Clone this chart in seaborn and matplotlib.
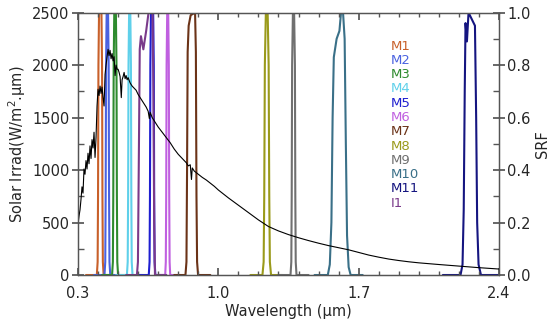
import numpy as np
import pandas as pd
import matplotlib
matplotlib.use("Agg")
import matplotlib.pyplot as plt
import seaborn as sns
from matplotlib.ticker import MultipleLocator, FixedLocator, FormatStrFormatter

# ---------------- data ----------------
solar_wl = [0.300, 0.305, 0.310, 0.315, 0.320, 0.325, 0.330, 0.335, 0.340, 0.345,
            0.350, 0.355, 0.360, 0.365, 0.370, 0.375, 0.380, 0.385, 0.390, 0.395,
            0.400, 0.405, 0.410, 0.415, 0.420, 0.425, 0.430, 0.435, 0.440, 0.445,
            0.450, 0.455, 0.460, 0.465, 0.470, 0.475, 0.480, 0.485, 0.490, 0.495,
            0.500, 0.505, 0.510, 0.516, 0.520, 0.525, 0.530, 0.535, 0.540, 0.545,
            0.550, 0.560, 0.570, 0.580, 0.590, 0.600, 0.610, 0.620, 0.630, 0.640,
            0.650, 0.656, 0.660, 0.670, 0.680, 0.690, 0.700, 0.720, 0.740, 0.760,
            0.780, 0.800, 0.820, 0.840, 0.850, 0.860, 0.866, 0.870, 0.880, 0.900,
            0.920, 0.940, 0.960, 0.980, 1.000, 1.050, 1.100, 1.150, 1.200,
            1.250, 1.300, 1.350, 1.400, 1.450, 1.500, 1.550, 1.600, 1.650, 1.700,
            1.750, 1.800, 1.850, 1.900, 1.950, 2.000, 2.050, 2.100, 2.200, 2.300, 2.400]
solar_irr = [480, 560, 620, 720, 840, 780, 1010, 960, 1090, 1010,
             1160, 1060, 1230, 1110, 1290, 1210, 1360, 1120, 1310, 1610,
             1770, 1710, 1800, 1730, 1790, 1690, 1610, 1910, 2000, 2080,
             2150, 2090, 2140, 2060, 2110, 2040, 2080, 1900, 2000, 1960,
             1960, 1930, 1890, 1690, 1860, 1890, 1930, 1870, 1900, 1860,
             1880, 1830, 1800, 1780, 1760, 1720, 1690, 1660, 1630, 1600,
             1560, 1490, 1550, 1500, 1470, 1440, 1410, 1360, 1310, 1260,
             1200, 1150, 1110, 1070, 1040, 1050, 910, 1020, 990, 960,
             930, 905, 875, 845, 810, 735, 665, 595, 525,
             462, 420, 385, 355, 328, 303, 280, 260, 240, 215,
             190, 170, 152, 138, 126, 116, 108, 100, 85, 70, 57]

band_names = ["M1", "M2", "M3", "M4", "M5", "M6", "M7", "M8", "M9", "M10", "M11", "I1"]
band_colors = ["#c8602a", "#4a62e0", "#2e8b2e", "#5fd0ea", "#1e1ed0", "#c060e0",
               "#6b3318", "#9a9a1a", "#707070", "#3a7088", "#151580", "#7a3a8a"]

flat_srf = [0, 0, 0.05, 0.3, 0.8, 1, 1, 0.8, 0.3, 0.05, 0, 0]

M1_wl = [0.34, 0.394, 0.398, 0.400, 0.402, 0.405, 0.417, 0.420, 0.422, 0.424, 0.428, 0.48]
M1_srf = flat_srf
M2_wl = [0.38, 0.432, 0.436, 0.438, 0.440, 0.443, 0.450, 0.453, 0.455, 0.457, 0.461, 0.51]
M2_srf = flat_srf
M3_wl = [0.42, 0.470, 0.474, 0.476, 0.478, 0.481, 0.489, 0.492, 0.494, 0.496, 0.500, 0.55]
M3_srf = flat_srf
M4_wl = [0.49, 0.544, 0.548, 0.550, 0.552, 0.555, 0.561, 0.564, 0.566, 0.568, 0.572, 0.62]
M4_srf = flat_srf
M5_wl = [0.60, 0.653, 0.657, 0.659, 0.661, 0.664, 0.675, 0.678, 0.680, 0.682, 0.686, 0.74]
M5_srf = flat_srf
M6_wl = [0.69, 0.735, 0.738, 0.740, 0.742, 0.745, 0.750, 0.753, 0.755, 0.757, 0.760, 0.81]
M6_srf = flat_srf
M7_wl = [0.78, 0.836, 0.841, 0.844, 0.847, 0.852, 0.862, 0.884, 0.888, 0.891, 0.894, 0.899, 0.96]
M7_srf = [0, 0, 0.05, 0.4, 0.85, 0.95, 0.99, 1.0, 0.85, 0.3, 0.05, 0, 0]
M8_wl = [1.16, 1.220, 1.226, 1.229, 1.232, 1.237, 1.246, 1.251, 1.254, 1.257, 1.263, 1.32]
M8_srf = flat_srf
M9_wl = [1.30, 1.360, 1.364, 1.366, 1.368, 1.372, 1.378, 1.382, 1.384, 1.386, 1.390, 1.45]
M9_srf = flat_srf
M10_wl = [1.48, 1.546, 1.556, 1.564, 1.570, 1.576, 1.590, 1.604, 1.612, 1.622,
          1.630, 1.636, 1.642, 1.650, 1.660, 1.72]
M10_srf = [0, 0, 0.04, 0.2, 0.6, 0.83, 0.90, 0.93, 1.0, 1.0,
           0.9, 0.5, 0.15, 0.03, 0, 0]
M11_wl = [2.12, 2.208, 2.218, 2.224, 2.229, 2.233, 2.240, 2.248, 2.280, 2.286,
          2.291, 2.298, 2.310, 2.40]
M11_srf = [0, 0, 0.04, 0.25, 0.7, 0.96, 0.89, 1.0, 0.95, 0.6,
           0.2, 0.04, 0, 0]
I1_wl = [0.54, 0.594, 0.599, 0.603, 0.608, 0.614, 0.626, 0.640, 0.652, 0.672,
         0.676, 0.680, 0.684, 0.74]
I1_srf = [0, 0, 0.05, 0.4, 0.86, 0.91, 0.86, 0.93, 1.0, 1.0,
          0.7, 0.2, 0, 0]

band_wls = [M1_wl, M2_wl, M3_wl, M4_wl, M5_wl, M6_wl, M7_wl, M8_wl, M9_wl, M10_wl, M11_wl, I1_wl]
band_srfs = [M1_srf, M2_srf, M3_srf, M4_srf, M5_srf, M6_srf, M7_srf, M8_srf, M9_srf, M10_srf, M11_srf, I1_srf]

x_ticks = [0.3, 1.0, 1.7, 2.4]

# ---------------- plot ----------------
sns.set_theme(style="ticks")
plt.rcParams["font.family"] = ["DejaVu Sans"]
plt.rcParams["axes.edgecolor"] = "#555555"
plt.rcParams["axes.linewidth"] = 0.9

fig = plt.figure(figsize=(5.5, 3.26), dpi=100)
ax = fig.add_axes([0.1418, 0.1564, 0.7655, 0.805])
ax2 = ax.twinx()

for name, wl, srf, col in zip(band_names, band_wls, band_srfs, band_colors):
    df = pd.DataFrame({"wl": wl, "srf": srf})
    sns.lineplot(data=df, x="wl", y="srf", ax=ax2, color=col, lw=1.5,
                 sort=False, estimator=None)

sol = pd.DataFrame({"wl": solar_wl, "irr": solar_irr})
sns.lineplot(data=sol, x="wl", y="irr", ax=ax, color="black", lw=0.8,
             sort=False, estimator=None)

ax.set_zorder(ax2.get_zorder() + 1)
ax.patch.set_visible(False)

ax.set_xlim(0.3, 2.4)
ax.set_ylim(0, 2500)
ax2.set_ylim(0, 1.0)

ax.xaxis.set_major_locator(FixedLocator(x_ticks))
ax.xaxis.set_minor_locator(MultipleLocator(0.1))
ax.xaxis.set_major_formatter(FormatStrFormatter("%.1f"))
ax.yaxis.set_major_locator(MultipleLocator(500))
ax.yaxis.set_minor_locator(MultipleLocator(250))
ax2.yaxis.set_major_locator(MultipleLocator(0.2))
ax2.yaxis.set_minor_locator(MultipleLocator(0.1))
ax2.yaxis.set_major_formatter(FormatStrFormatter("%.1f"))

ax.tick_params(axis="x", which="both", direction="in", top=True, bottom=True,
               labelsize=10.5, pad=8, color="#555555")
ax.tick_params(axis="x", which="major", length=5)
ax.tick_params(axis="x", which="minor", length=3)
ax.tick_params(axis="y", which="major", direction="inout", length=8,
               labelsize=10.5, pad=2, color="#555555")
ax.tick_params(axis="y", which="minor", direction="in", length=4, color="#555555")
ax2.tick_params(axis="y", which="major", direction="inout", length=8,
                labelsize=10.5, pad=2, color="#555555")
ax2.tick_params(axis="y", which="minor", direction="in", length=4, color="#555555")

ax.set_xlabel("Wavelength (μm)", fontsize=10.5, labelpad=2)
ax.set_ylabel("Solar Irrad(W/m$^2$.μm)", fontsize=10.5, labelpad=3)
ax2.set_ylabel("SRF", fontsize=10.5, labelpad=3)

y0 = 1 - 46 / 326
dy = 14.3 / 326
for i, (name, col) in enumerate(zip(band_names, band_colors)):
    fig.text(391 / 550, y0 - i * dy, name, color=col, fontsize=9.5, va="center", ha="left")

fig.savefig("out.png", dpi=100)
